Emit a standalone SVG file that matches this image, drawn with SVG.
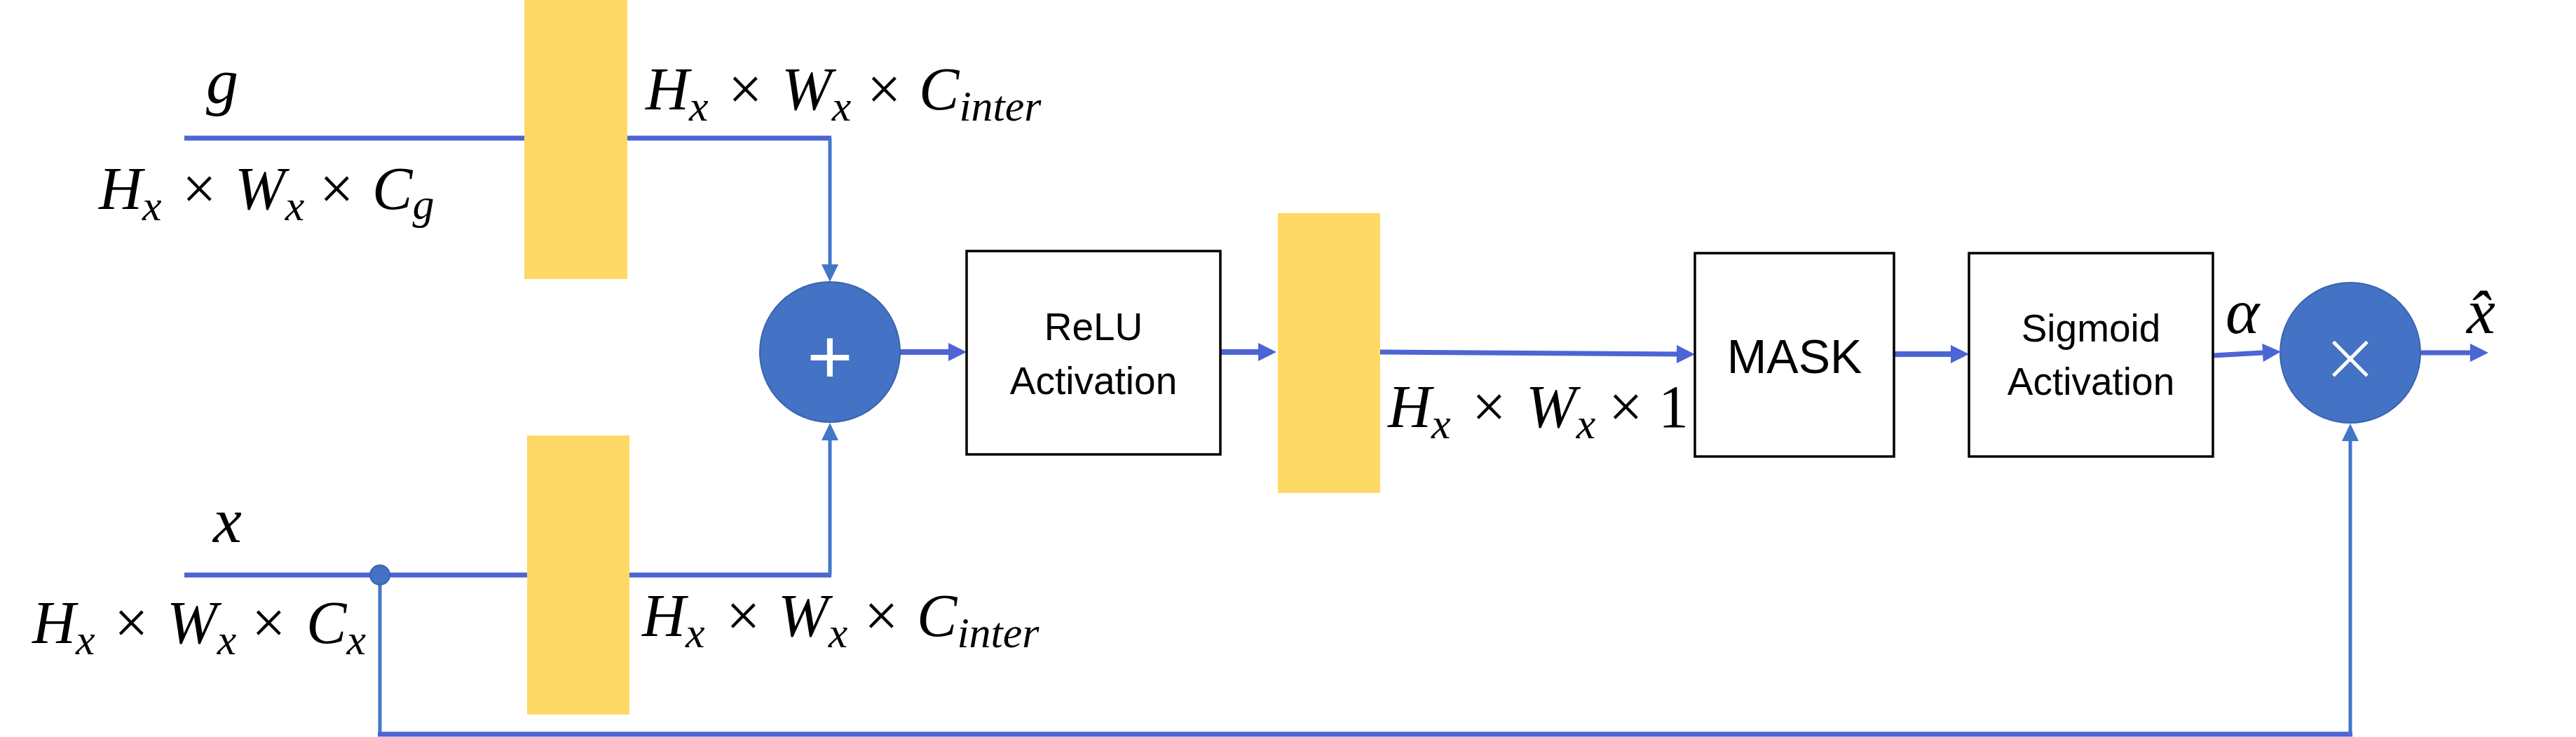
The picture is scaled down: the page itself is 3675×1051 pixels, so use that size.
<svg xmlns="http://www.w3.org/2000/svg" width="3675" height="1051" viewBox="0 0 3675 1051">
<style>
.bar{fill:#FFD966}
.box{fill:#fff;stroke:#000;stroke-width:3.5}
.op{fill:#4472C4;stroke:#3A64B0;stroke-width:2}
.thk{fill:none;stroke:#4D64D4;stroke-width:7}
.thn{fill:none;stroke:#4177C9;stroke-width:5}
.m{font-family:"Liberation Serif",serif;font-style:italic;font-size:86px;fill:#000}
.s{font-size:62px}
.u{font-style:normal}
.t{font-family:"Liberation Sans",sans-serif;font-size:55px;fill:#000;text-anchor:middle}
.sym{fill:#fff;text-anchor:middle}
</style>
<defs>
<marker id="ah" markerUnits="userSpaceOnUse" markerWidth="26" markerHeight="26" refX="0" refY="13" orient="auto" overflow="visible"><path d="M0,0 L26,13 L0,26 z" fill="#4D64D4"/></marker>
<marker id="av" markerUnits="userSpaceOnUse" markerWidth="25" markerHeight="24" refX="0" refY="12" orient="auto" overflow="visible"><path d="M0,0 L25,12 L0,24 z" fill="#4177C9"/></marker>
</defs>
<rect width="3675" height="1051" fill="#fff"/>
<g id="connectors">
<path class="thk" d="M263,197 H1186"/>
<path class="thn" d="M1184,197 V377" marker-end="url(#av)"/>
<path class="thk" d="M263,820 H1186"/>
<path class="thn" d="M1184,820 V628" marker-end="url(#av)"/>
<path class="thn" d="M542,820 V1047"/>
<path class="thk" d="M539,1047 H3356"/>
<path class="thn" d="M3353,1047 V629" marker-end="url(#av)"/>
<path class="thk" style="stroke-width:8" d="M1284,502 H1353" marker-end="url(#ah)"/>
<path class="thk" style="stroke-width:8" d="M1741,502 H1795" marker-end="url(#ah)"/>
<path class="thk" d="M1969,502 L2392,505" marker-end="url(#ah)"/>
<path class="thk" style="stroke-width:8" d="M2702,505 H2783" marker-end="url(#ah)"/>
<path class="thk" d="M3157,507 L3228,503" marker-end="url(#ah)"/>
<path class="thk" d="M3453,503 H3524" marker-end="url(#ah)"/>
</g>
<g id="conv_g"><rect class="bar" x="748" y="0" width="147" height="398"/></g>
<g id="conv_x"><rect class="bar" x="752" y="621" width="146" height="398"/></g>
<g id="conv_psi"><rect class="bar" x="1823" y="304" width="146" height="399"/></g>
<g id="split_dot"><circle cx="542" cy="820" r="14" fill="#4472C4" stroke="#3A64B0" stroke-width="2"/></g>
<g id="add"><circle class="op" cx="1184" cy="502" r="100"/><text class="sym" x="1184" y="547" style="font-family:'Liberation Sans',sans-serif;font-size:112px">+</text></g>
<g id="relu"><rect class="box" x="1379" y="358" width="362" height="290"/><text class="t" x="1560" y="485">ReLU</text><text class="t" x="1560" y="562">Activation</text></g>
<g id="mask"><rect class="box" x="2418" y="361" width="284" height="290"/><text class="t" x="2560" y="532" style="font-size:68px">MASK</text></g>
<g id="sigmoid"><rect class="box" x="2809" y="361" width="348" height="290"/><text class="t" x="2983" y="487">Sigmoid</text><text class="t" x="2983" y="563">Activation</text></g>
<g id="mult"><circle class="op" cx="3353" cy="503" r="100"/><text class="sym" x="3353" y="543" style="font-family:'DejaVu Sans',sans-serif;font-weight:200;font-size:100px">×</text></g>
<g id="labels">
<text class="m" x="294" y="147" style="font-size:92px">g</text>
<text class="m" x="304" y="773" style="font-size:92px">x</text>
<text class="m" y="298"><tspan x="141">H</tspan><tspan class="s" dy="16">x</tspan><tspan class="u" x="260" y="298">×</tspan><tspan x="335">W</tspan><tspan class="s" dy="16">x</tspan><tspan class="u" x="456" y="298">×</tspan><tspan x="531">C</tspan><tspan class="s" dy="14">g</tspan></text>
<text class="m" y="156"><tspan x="921">H</tspan><tspan class="s" dy="16">x</tspan><tspan class="u" x="1039" y="156">×</tspan><tspan x="1115">W</tspan><tspan class="s" dy="16">x</tspan><tspan class="u" x="1237" y="156">×</tspan><tspan x="1311">C</tspan><tspan class="s" dy="16">inter</tspan></text>
<text class="m" y="917"><tspan x="46">H</tspan><tspan class="s" dy="16">x</tspan><tspan class="u" x="163" y="917">×</tspan><tspan x="238">W</tspan><tspan class="s" dy="16">x</tspan><tspan class="u" x="359" y="917">×</tspan><tspan x="437">C</tspan><tspan class="s" dy="16">x</tspan></text>
<text class="m" y="907"><tspan x="916">H</tspan><tspan class="s" dy="16">x</tspan><tspan class="u" x="1036" y="907">×</tspan><tspan x="1110">W</tspan><tspan class="s" dy="16">x</tspan><tspan class="u" x="1233" y="907">×</tspan><tspan x="1308">C</tspan><tspan class="s" dy="16">inter</tspan></text>
<text class="m" y="609"><tspan x="1980">H</tspan><tspan class="s" dy="16">x</tspan><tspan class="u" x="2100" y="609">×</tspan><tspan x="2177">W</tspan><tspan class="s" dy="16">x</tspan><tspan class="u" x="2295" y="609">×</tspan><tspan class="u" x="2366">1</tspan></text>
<text class="m" x="3175" y="475" style="font-size:92px">α</text>
<text class="m" x="3519" y="475" style="font-size:92px">x̂</text>
</g>
</svg>
